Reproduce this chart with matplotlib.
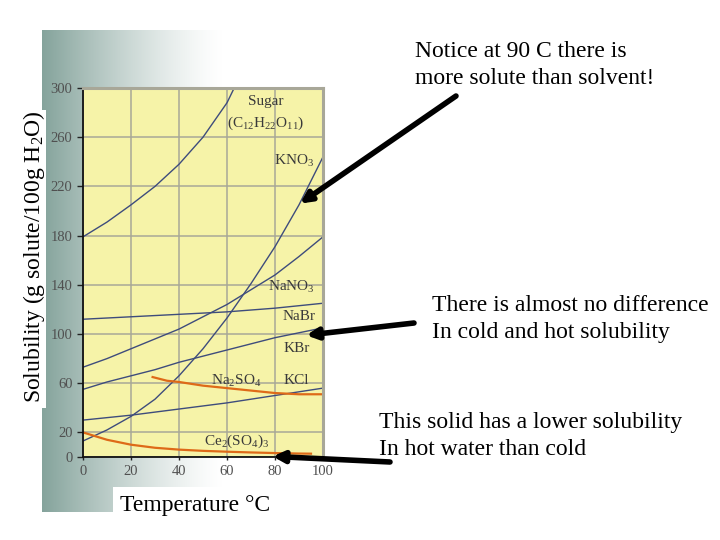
import numpy as np
import matplotlib
matplotlib.use("Agg")
import matplotlib.pyplot as plt

plt.rcParams['font.family'] = ['Liberation Serif', 'DejaVu Serif']
plt.rcParams['mathtext.default'] = 'regular'

# solubility curves (g solute / 100 g water)
sugar_t = [0, 10, 20, 30, 40, 50, 60, 63]
sugar_s = [179, 191, 205, 220, 238, 260, 288, 300]

kno3_t = [0, 10, 20, 30, 40, 50, 60, 70, 80, 90, 100]
kno3_s = [13, 22, 33, 47, 66, 88, 113, 141, 171, 205, 244]

nano3_t = [0, 10, 20, 30, 40, 50, 60, 70, 80, 90, 100]
nano3_s = [73, 80, 88, 96, 104, 114, 124, 136, 148, 163, 179]

nabr_t = [0, 20, 40, 60, 80, 100]
nabr_s = [112, 114, 116, 118, 121, 125]

kbr_t = [0, 10, 20, 30, 40, 50, 60, 70, 80, 90, 100]
kbr_s = [55, 61, 66, 71, 77, 82, 87, 92, 97, 101, 105]

kcl_t = [0, 20, 40, 60, 80, 100]
kcl_s = [30, 34, 39, 44, 50, 56]

na2so4_t = [29, 35, 40, 50, 60, 70, 80, 90, 100]
na2so4_s = [65, 62, 61, 58, 56, 54, 52, 51, 51]

ce_t = [0, 10, 20, 30, 40, 50, 60, 70, 80, 90, 95]
ce_s = [20, 14, 10, 7.5, 6, 5, 4.3, 3.7, 3.2, 2.8, 2.7]

x_ticks = [0, 20, 40, 60, 80, 100]
y_ticks = [0, 20, 60, 100, 140, 180, 220, 260, 300]

W, H = 720, 540
fig = plt.figure(figsize=(7.2, 5.4), dpi=100)

# scanned page background: grey-green fading to white
bg = fig.add_axes([0, 0, 1, 1], zorder=-10)
bg.axis('off')
img = np.ones((H, W, 3))
xs = np.arange(W)
w = np.clip(1 - (xs - 42) / 180.0, 0, 1) ** 1.3
base = np.array([0.52, 0.64, 0.61])
for c in range(3):
    img[30:512, 42:, c] = 1 - w[42:] * (1 - base[c])
img[110:408, 0:46] = 1.0
img[487:, 113:] = 1.0
bg.imshow(img, extent=(0, W, H, 0), aspect='auto')
bg.set_xlim(0, W)
bg.set_ylim(H, 0)

ax = fig.add_axes([83 / W, 1 - 457 / H, 240 / W, 369 / H], zorder=1)
ax.set_facecolor('#f6f3a8')

blue = '#3e4c7c'
orange = '#de6a18'
lw = 1.0
ax.plot(sugar_t, sugar_s, color=blue, lw=lw)
ax.plot(kno3_t, kno3_s, color=blue, lw=lw)
ax.plot(nano3_t, nano3_s, color=blue, lw=lw)
ax.plot(nabr_t, nabr_s, color=blue, lw=lw)
ax.plot(kbr_t, kbr_s, color=blue, lw=lw)
ax.plot(kcl_t, kcl_s, color=blue, lw=lw)
ax.plot(na2so4_t, na2so4_s, color=orange, lw=1.6)
ax.plot(ce_t, ce_s, color=orange, lw=1.6)

ax.set_xlim(0, 100)
ax.set_ylim(0, 300)
ax.set_xticks(x_ticks)
ax.set_yticks(y_ticks)
ax.grid(True, color='#a9a898', lw=1.1)
ax.set_axisbelow(True)
ax.tick_params(axis='both', colors='#222222', labelcolor='#505050', labelsize=10.5)
ax.tick_params(axis='y', length=4, width=1)
ax.tick_params(axis='x', length=2, width=1)
for s in ('left', 'bottom'):
    ax.spines[s].set_color('#111111')
    ax.spines[s].set_linewidth(1.3)
for s in ('top', 'right'):
    ax.spines[s].set_color('#a8a798')
    ax.spines[s].set_linewidth(2.2)

lab = dict(fontsize=11, color='#3a3a3a', ha='center', va='center')
ax.text(76, 289, 'Sugar', **lab)
ax.text(76, 271, '(C$_{12}$H$_{22}$O$_{11}$)', **lab)
ax.text(88, 241, 'KNO$_3$', **lab)
ax.text(87, 138, 'NaNO$_3$', **lab)
ax.text(90, 114, 'NaBr', **lab)
ax.text(89, 88, 'KBr', **lab)
ax.text(64, 62, 'Na$_2$SO$_4$', **lab)
ax.text(89, 62, 'KCl', **lab)
ax.text(64, 13, 'Ce$_2$(SO$_4$)$_3$', **lab)

def fx(px):
    return px / W

def fy(py):
    return 1 - py / H

fig.text(fx(120), fy(505), 'Temperature \u00b0C', fontsize=17, va='center')
fig.text(fx(34), fy(257), 'Solubility (g solute/100g H$_2$O)', fontsize=17,
         rotation=90, ha='center', va='center')

note = dict(fontsize=17, va='center', linespacing=1.35)
fig.text(fx(415), fy(65), 'Notice at 90 C there is\nmore solute than solvent!', **note)
fig.text(fx(432), fy(319), 'There is almost no difference\nIn cold and hot solubility', **note)
fig.text(fx(379), fy(436), 'This solid has a lower solubility\nIn hot water than cold', **note)

arrow = dict(arrowstyle='-|>', color='black', lw=4, mutation_scale=16,
             shrinkA=0, shrinkB=0)
ax.annotate('', xy=(90.4, 206), xycoords='data',
            xytext=(fx(456), fy(96)), textcoords='figure fraction',
            arrowprops=arrow, annotation_clip=False)
ax.annotate('', xy=(93, 99), xycoords='data',
            xytext=(fx(414), fy(323)), textcoords='figure fraction',
            arrowprops=arrow, annotation_clip=False)
ax.annotate('', xy=(79, 0.5), xycoords='data',
            xytext=(fx(390), fy(462)), textcoords='figure fraction',
            arrowprops=arrow, annotation_clip=False)

fig.savefig('out.png', dpi=100)
